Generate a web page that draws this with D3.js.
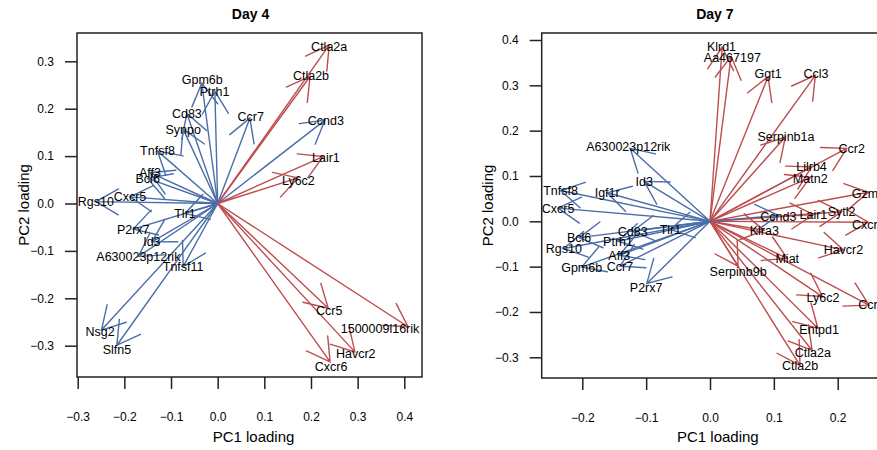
<!DOCTYPE html>
<html>
<head>
<meta charset="utf-8">
<script src="https://cdn.jsdelivr.net/npm/d3@7"></script>
<style>
  body { margin: 0; background: #fff; }
  text { font-family: "Liberation Sans", Arial, Helvetica, sans-serif; fill: #000; }
</style>
</head>
<body>
<svg id="chart" width="877" height="450"></svg>
<script>
// ---- Day 4 loadings (arrow tips and label anchors, in PC units) ----
const day4Genes = ["Ctla2a","Ctla2b","Ccnd3","Ccr7","Lair1","Ly6c2","Gpm6b","Ptrh1","Cd83","Synpo",
  "Tnfsf8","Aff3","Bcl6","Rgs10","Cxcr5","Tlr1","P2rx7","Id3","A630023p12rik","Tnfsf11",
  "Nsg2","Slfn5","Ccr5","1500009l16rik","Havcr2","Cxcr6"];
const day4Group = ["up","up","down","down","up","up","down","down","down","down",
  "down","down","down","down","down","down","down","down","down","down",
  "down","down","up","up","up","up"];
const day4PC1 = [0.239,0.198,0.230,0.069,0.226,0.172,-0.034,-0.006,-0.066,-0.074,
  -0.129,-0.145,-0.150,-0.261,-0.188,-0.070,-0.181,-0.141,-0.170,-0.074,
  -0.249,-0.216,0.237,0.408,0.294,0.241];
const day4PC2 = [0.334,0.268,0.176,0.180,0.099,0.054,0.254,0.237,0.190,0.157,
  0.111,0.065,0.053,0.004,0.014,-0.021,-0.054,-0.081,-0.112,-0.133,
  -0.267,-0.299,-0.221,-0.260,-0.313,-0.334];
const day4LabelPC1 = [0.239,0.200,0.232,0.071,0.232,0.173,-0.033,-0.007,-0.066,-0.074,
  -0.129,-0.145,-0.150,-0.261,-0.188,-0.070,-0.181,-0.141,-0.170,-0.074,
  -0.252,-0.216,0.239,0.348,0.296,0.243];
const day4LabelPC2 = [0.332,0.271,0.175,0.183,0.097,0.048,0.262,0.236,0.190,0.157,
  0.111,0.065,0.053,0.004,0.014,-0.021,-0.054,-0.081,-0.112,-0.133,
  -0.271,-0.308,-0.226,-0.263,-0.316,-0.344];

// ---- Day 7 loadings ----
const day7Genes = ["Klrd1","Aa467197","Ggt1","Ccl3","Serpinb1a","Ccr2","Lilrb4","Matn2","Gzmb","Sytl2",
  "Lair1","Cxcr6","Ccnd3","Klra3","Havcr2","Miat","Serpinb9b","Ly6c2","Ccr5","Entpd1",
  "Ctla2a","Ctla2b","A630023p12rik","Id3","Igf1r","Tnfsf8","Cxcr5","Bcl6","Rgs10","Gpm6b",
  "Cd83","Ptrh1","Aff3","Ccr7","Tlr1","P2rx7"];
const day7Group = ["up","up","up","up","up","up","up","up","up","up",
  "up","up","down","up","up","up","up","up","up","up",
  "up","up","down","down","down","down","down","down","down","down",
  "down","down","down","down","down","down"];
const day7PC1 = [0.019,0.033,0.091,0.165,0.118,0.214,0.159,0.157,0.248,0.206,
  0.162,0.248,0.107,0.085,0.209,0.121,0.044,0.176,0.249,0.169,
  0.160,0.141,-0.125,-0.103,-0.161,-0.234,-0.238,-0.205,-0.229,-0.201,
  -0.121,-0.144,-0.142,-0.141,-0.062,-0.099];
const day7PC2 = [0.384,0.364,0.319,0.322,0.186,0.161,0.120,0.097,0.064,0.021,
  0.015,-0.002,0.013,-0.020,-0.063,-0.082,-0.099,-0.166,-0.185,-0.236,
  -0.285,-0.318,0.161,0.088,0.063,0.068,0.029,-0.036,-0.060,-0.101,
  -0.022,-0.044,-0.075,-0.099,-0.018,-0.137];
const day7LabelPC1 = [0.018,0.035,0.091,0.166,0.119,0.222,0.159,0.157,0.248,0.206,
  0.162,0.248,0.107,0.085,0.209,0.121,0.044,0.177,0.253,0.171,
  0.161,0.141,-0.128,-0.103,-0.161,-0.234,-0.238,-0.205,-0.229,-0.201,
  -0.121,-0.144,-0.142,-0.141,-0.062,-0.100];
const day7LabelPC2 = [0.386,0.362,0.326,0.326,0.188,0.161,0.120,0.094,0.061,0.021,
  0.015,-0.007,0.010,-0.020,-0.063,-0.082,-0.110,-0.167,-0.184,-0.238,
  -0.289,-0.319,0.164,0.088,0.063,0.068,0.029,-0.036,-0.060,-0.101,
  -0.022,-0.044,-0.075,-0.099,-0.018,-0.146];

const day4XTicks = [-0.3,-0.2,-0.1,0.0,0.1,0.2,0.3,0.4];
const day4YTicks = [-0.3,-0.2,-0.1,0.0,0.1,0.2,0.3];
const day7XTicks = [-0.2,-0.1,0.0,0.1,0.2];
const day7YTicks = [-0.3,-0.2,-0.1,0.0,0.1,0.2,0.3,0.4];

const colors = { up: "#bd4d4f", down: "#4a6ea8" };
const svg = d3.select("#chart");
const fmt = d3.format(".1f");

function panel(cfg) {
  const { id, title, box, xDomain, xRange, yDomain, yRange, genes, group, pc1, pc2, lab1, lab2, xTicks, yTicks, yTitleX } = cfg;
  const x = d3.scaleLinear().domain(xDomain).range(xRange);
  const y = d3.scaleLinear().domain(yDomain).range(yRange);
  const g = svg.append("g");

  g.append("clipPath").attr("id", "clip-" + id)
    .append("rect").attr("x", box.x0).attr("y", box.y0)
    .attr("width", box.x1 - box.x0).attr("height", box.y1 - box.y0);

  const rows = genes.map((name, i) => ({ name, grp: group[i], px: pc1[i], py: pc2[i], lx: lab1[i], ly: lab2[i] }));

  const arrows = g.append("g").attr("clip-path", `url(#clip-${id})`)
    .attr("fill", "none").attr("stroke-width", 1.4).attr("stroke-linecap", "round");
  const headLen = 26, headAng = Math.PI / 6;
  rows.forEach(d => {
    const x0 = x(0), y0 = y(0), x1 = x(d.px), y1 = y(d.py);
    const ang = Math.atan2(y1 - y0, x1 - x0);
    const path = d3.path();
    path.moveTo(x0, y0); path.lineTo(x1, y1);
    path.moveTo(x1 - headLen * Math.cos(ang - headAng), y1 - headLen * Math.sin(ang - headAng));
    path.lineTo(x1, y1);
    path.lineTo(x1 - headLen * Math.cos(ang + headAng), y1 - headLen * Math.sin(ang + headAng));
    arrows.append("path").attr("d", path.toString()).attr("stroke", colors[d.grp]);
  });

  g.append("g").selectAll("text").data(rows).join("text")
    .attr("x", d => x(d.lx)).attr("y", d => y(d.ly))
    .attr("dy", "0.36em").attr("text-anchor", "middle")
    .attr("font-size", 12.5).text(d => d.name);

  // frame
  g.append("rect").attr("x", box.x0).attr("y", box.y0)
    .attr("width", box.x1 - box.x0).attr("height", box.y1 - box.y0)
    .attr("fill", "none").attr("stroke", "#222").attr("stroke-width", 1.5);

  const xAxis = g.append("g").attr("transform", `translate(0,${box.y1})`)
    .call(d3.axisBottom(x).tickValues(xTicks).tickSize(12).tickPadding(23).tickFormat(fmt));
  const yAxis = g.append("g").attr("transform", `translate(${box.x0},0)`)
    .call(d3.axisLeft(y).tickValues(yTicks).tickSize(12).tickPadding(11).tickFormat(fmt));
  [xAxis, yAxis].forEach(a => {
    a.select(".domain").remove();
    a.selectAll("line").attr("stroke", "#222").attr("stroke-width", 1.5);
    a.selectAll("text").attr("font-size", 12).attr("font-family", '"Liberation Sans", Arial, sans-serif').attr("fill", "#000");
  });

  const cx = (box.x0 + Math.min(box.x1, 877 + (box.x1 - 877))) / 2;
  g.append("text").attr("x", (box.x0 + box.x1) / 2 + 1).attr("y", 19)
    .attr("text-anchor", "middle").attr("font-size", 14).attr("font-weight", "bold").text(title);
  g.append("text").attr("x", (box.x0 + box.x1) / 2 + 4).attr("y", 442)
    .attr("text-anchor", "middle").attr("font-size", 15).text("PC1 loading");
  g.append("text").attr("transform", `translate(${yTitleX},${(box.y0 + box.y1) / 2}) rotate(-90)`)
    .attr("text-anchor", "middle").attr("font-size", 15).text("PC2 loading");
}

panel({
  id: "d4", title: "Day 4",
  box: { x0: 77, x1: 422, y0: 33, y1: 377 },
  xDomain: [-0.3, 0.4], xRange: [77.7, 404.3],
  yDomain: [-0.3, 0.3], yRange: [345.7, 61.3],
  genes: day4Genes, group: day4Group, pc1: day4PC1, pc2: day4PC2,
  lab1: day4LabelPC1, lab2: day4LabelPC2,
  xTicks: day4XTicks, yTicks: day4YTicks, yTitleX: 29
});

panel({
  id: "d7", title: "Day 7",
  box: { x0: 541.7, x1: 886, y0: 33, y1: 378 },
  xDomain: [-0.2, 0.2], xRange: [582.3, 837.7],
  yDomain: [-0.3, 0.4], yRange: [357.3, 40],
  genes: day7Genes, group: day7Group, pc1: day7PC1, pc2: day7PC2,
  lab1: day7LabelPC1, lab2: day7LabelPC2,
  xTicks: day7XTicks, yTicks: day7YTicks, yTitleX: 493
});
</script>
</body>
</html>
